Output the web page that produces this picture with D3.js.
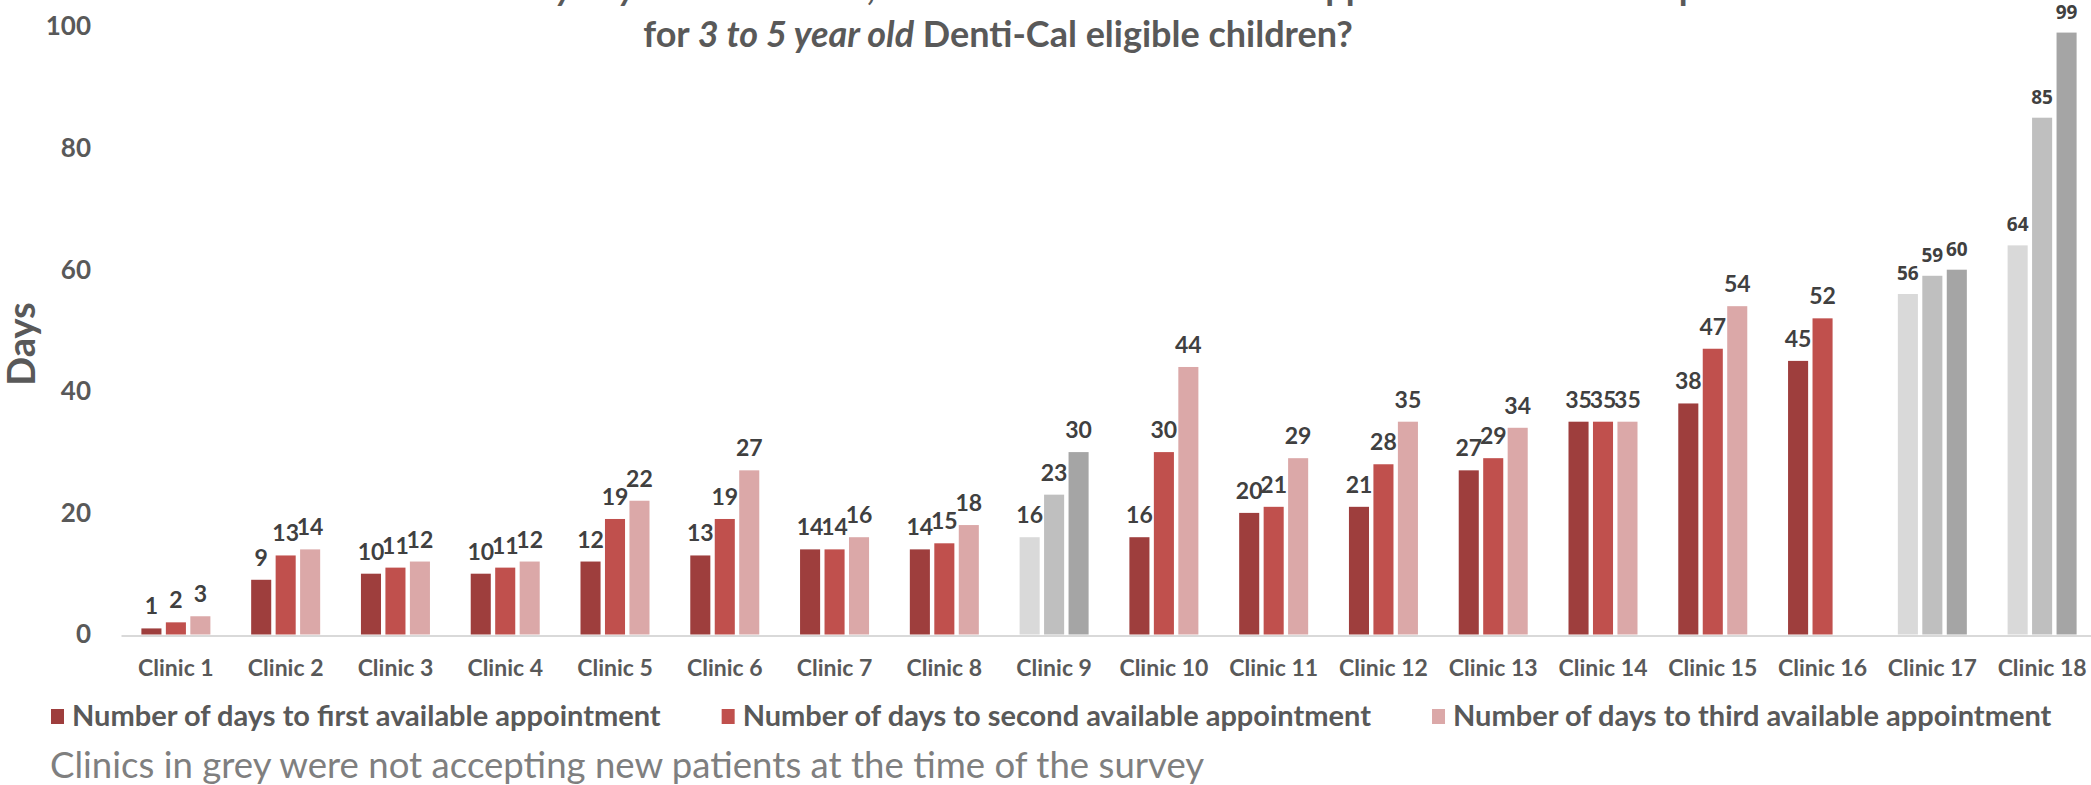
<!DOCTYPE html>
<html>
<head>
<meta charset="utf-8">
<script src="https://cdn.jsdelivr.net/npm/d3@7"></script>
<style>
  body { margin: 0; background: #fff; }
  svg text { font-family: Lato, "Open Sans", sans-serif; }
</style>
</head>
<body>
<svg id="chart" width="2091" height="785"></svg>
<script>
// values
const clinics = ["Clinic 1", "Clinic 2", "Clinic 3", "Clinic 4", "Clinic 5", "Clinic 6",
  "Clinic 7", "Clinic 8", "Clinic 9", "Clinic 10", "Clinic 11", "Clinic 12",
  "Clinic 13", "Clinic 14", "Clinic 15", "Clinic 16", "Clinic 17", "Clinic 18"];
const firstAppt  = [1, 9, 10, 10, 12, 13, 14, 14, 16, 16, 20, 21, 27, 35, 38, 45, 56, 64];
const secondAppt = [2, 13, 11, 11, 19, 19, 14, 15, 23, 30, 21, 28, 29, 35, 47, 52, 59, 85];
const thirdAppt  = [3, 14, 12, 12, 22, 27, 16, 18, 30, 44, 29, 35, 34, 35, 54, null, 60, 99];
const seriesNames = ["Number of days to first available appointment",
  "Number of days to second available appointment",
  "Number of days to third available appointment"];
// clinics that were not taking new patients are drawn in grey
const greyClinics = ["Clinic 9", "Clinic 17", "Clinic 18"];
const yTicks = [0, 20, 40, 60, 80, 100];

const redColors = ["#9e3e3d", "#c0504d", "#dba8a8"];
const greyColors = ["#d9d9d9", "#bfbfbf", "#a5a5a5"];

class ClinicChart {
  constructor() {
    this.width = 2091;
    this.height = 785;
    this.drawChart();
  }

  drawChart() {
    this.setup();
    this.drawBars();
    this.drawAxes();
    this.drawTitle();
    this.drawLegend();
  }

  setup() {
    this.svg = d3.select("#chart");
    this.series = [firstAppt, secondAppt, thirdAppt];

    this.x0 = d3.scaleBand()
      .domain(clinics)
      .range([121, 2097]);

    this.groupWidth = 69;
    this.x1 = d3.scaleBand()
      .domain(d3.range(this.series.length))
      .range([0, this.groupWidth])
      .paddingInner(0.18);

    this.y = d3.scaleLinear()
      .domain([0, 100])
      .range([634.5, 26.5]);

    this.bars = clinics.flatMap((clinic, i) =>
      this.series.map((s, j) => ({ clinic, j, value: s[i], grey: greyClinics.includes(clinic) }))
    ).filter(d => d.value !== null);
  }

  barX(d) {
    return this.x0(d.clinic) + (this.x0.bandwidth() - this.groupWidth) / 2 + this.x1(d.j);
  }

  drawBars() {
    const g = this.svg.append("g");
    g.selectAll("rect")
      .data(this.bars)
      .join("rect")
        .attr("x", d => this.barX(d))
        .attr("y", d => this.y(d.value))
        .attr("width", this.x1.bandwidth())
        .attr("height", d => this.y(0) - this.y(d.value))
        .attr("fill", d => d.grey ? greyColors[d.j] : redColors[d.j]);

    // value labels sit a little above each bar; the last two clinics use a rounder face
    const roundFace = d => d.clinic === "Clinic 17" || d.clinic === "Clinic 18";
    g.selectAll("text")
      .data(this.bars)
      .join("text")
        .attr("x", d => this.barX(d) + this.x1.bandwidth() / 2)
        .attr("y", d => this.y(d.value) - 14)
        .attr("text-anchor", "middle")
        .attr("font-size", d => roundFace(d) ? 19 : 23)
        .attr("font-weight", "bold")
        .style("font-family", d => roundFace(d) ? "'Open Sans', sans-serif" : null)
        .attr("fill", "#404040")
        .text(d => d.value);
  }

  drawAxes() {
    const yAxis = this.svg.append("g")
      .attr("transform", "translate(121,0)")
      .attr("color", "#595959")
      .call(d3.axisLeft(this.y).tickValues(yTicks).tickSize(0).tickPadding(30));
    yAxis.select(".domain").remove();
    yAxis.selectAll("text")
      .attr("font-size", 26)
      .attr("font-weight", "bold")
      .style("font-family", "Lato, sans-serif");

    const xAxis = this.svg.append("g")
      .attr("transform", "translate(0,635.5)")
      .attr("color", "#595959")
      .call(d3.axisBottom(this.x0).tickSize(0).tickSizeOuter(0));
    xAxis.select(".domain")
      .attr("stroke", "#d9d9d9")
      .attr("stroke-width", 2);
    xAxis.selectAll("text")
      .attr("y", 40)
      .attr("dy", null)
      .attr("font-size", 23)
      .attr("font-weight", "bold")
      .style("font-family", "Lato, sans-serif");

    this.svg.append("text")
      .attr("transform", "translate(35,344) rotate(-90)")
      .attr("text-anchor", "middle")
      .attr("font-size", 38)
      .attr("font-weight", "bold")
      .attr("fill", "#595959")
      .text("Days");
  }

  drawTitle() {
    const title = this.svg.append("g")
      .attr("font-size", 36)
      .attr("font-weight", "bold")
      .attr("fill", "#595959");

    // first line is cut off by the top edge of the picture, only descenders show
    const line1 = title.append("text").attr("x", 405).attr("y", 0);
    line1.append("tspan").text("How ");
    line1.append("tspan").attr("font-style", "italic").text("many days");
    line1.append("tspan").text(" until the first, second and third available appointment for a new patient exam");

    const line2 = title.append("text").attr("x", 998).attr("y", 47).attr("text-anchor", "middle");
    line2.append("tspan").text("for ");
    line2.append("tspan").attr("font-style", "italic").text("3 to 5 year old");
    line2.append("tspan").text(" Denti-Cal eligible children?");
  }

  drawLegend() {
    const legend = this.svg.append("g");
    let x = 51;
    seriesNames.forEach((name, i) => {
      legend.append("rect")
        .attr("x", x)
        .attr("y", 709)
        .attr("width", 13)
        .attr("height", 15)
        .attr("fill", redColors[i]);
      const t = legend.append("text")
        .attr("x", x + 21)
        .attr("y", 726)
        .attr("font-size", 29)
        .attr("font-weight", "bold")
        .attr("fill", "#595959")
        .text(name);
      x += 21 + t.node().getComputedTextLength() + 61;
    });

    this.svg.append("text")
      .attr("x", 50)
      .attr("y", 778)
      .attr("font-size", 36.6)
      .attr("fill", "#7f7f7f")
      .text("Clinics in grey were not accepting new patients at the time of the survey");
  }
}

new ClinicChart();
</script>
</body>
</html>
